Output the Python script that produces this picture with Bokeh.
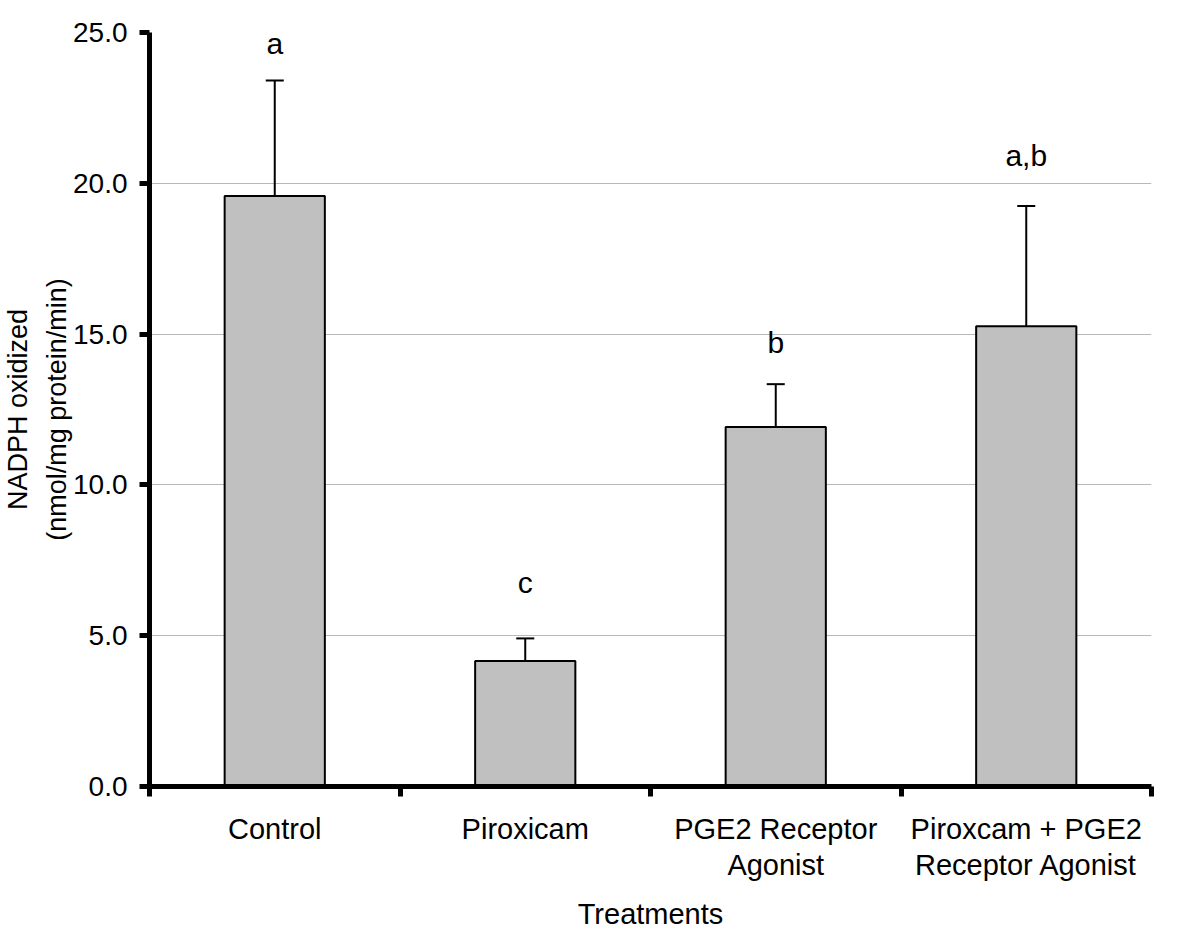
import numpy as np
from bokeh.plotting import figure
from bokeh.models import ColumnDataSource, Whisker, TeeHead, Range1d, FixedTicker
from bokeh.core.properties import value
from bokeh.embed import file_html
from bokeh.resources import INLINE

# ---- data ----
categories = ["Control", "Piroxicam", "PGE2 Receptor\nAgonist", "Piroxcam + PGE2\nReceptor Agonist"]
means = [19.58, 4.16, 11.92, 15.26]
upper_err = [23.41, 4.91, 13.34, 19.25]
letters = ["a", "c", "b", "a,b"]
letter_y = [24.62, 6.75, 14.72, 20.92]
y_ticks = [0, 5, 10, 15, 20, 25]

FONT = "Liberation Sans"

centers = list(np.arange(len(categories)) + 0.5)
boundaries = list(np.arange(len(categories) + 1).astype(float))

src = ColumnDataSource(dict(x=centers, top=means, upper=upper_err,
                            letters=letters, ly=letter_y))

p = figure(frame_width=1002, frame_height=754,
           min_border_left=142, min_border_right=40,
           min_border_top=32, min_border_bottom=150,
           x_range=Range1d(0, len(categories)), y_range=Range1d(0, 25),
           output_backend="svg", toolbar_location=None)

p.outline_line_color = None
p.background_fill_color = "white"
p.border_fill_color = "white"

# grid
p.xgrid.grid_line_color = None
p.ygrid.grid_line_color = "#b8b8b8"
p.ygrid.grid_line_width = 1

# bars
p.vbar(x="x", top="top", bottom=0, width=0.4, source=src,
       fill_color="#c0c0c0", line_color="black", line_width=2)

# error bars (upper only)
wh = Whisker(base="x", lower="top", upper="upper", source=src,
             line_color="black", line_width=2,
             upper_head=TeeHead(size=18, line_color="black", line_width=2),
             lower_head=None)
p.add_layout(wh)

# significance letters
p.text(x="x", y="ly", text="letters", source=src,
       text_font=value(FONT), text_font_size="30px",
       text_align="center", text_baseline="alphabetic", text_color="black")

# y axis
ya = p.yaxis[0]
ya.ticker = FixedTicker(ticks=y_ticks, minor_ticks=[])
ya.major_label_overrides = {t: f"{t:.1f}" for t in y_ticks}
ya.axis_line_width = 5
ya.axis_line_color = "black"
ya.major_tick_line_width = 5
ya.major_tick_out = 10
ya.major_tick_in = 0
ya.minor_tick_line_color = None
ya.major_label_standoff = 12
ya.major_label_text_font = FONT
ya.major_label_text_font_size = "28px"
ya.major_label_text_color = "black"
ya.axis_label = "NADPH oxidized\n(nmol/mg protein/min)"
ya.axis_label_text_font = FONT
ya.axis_label_text_font_size = "27px"
ya.axis_label_text_font_style = "normal"
ya.axis_label_text_color = "black"
ya.axis_label_text_line_height = 1.3
ya.axis_label_standoff = -2

# x axis
xa = p.xaxis[0]
xa.ticker = FixedTicker(ticks=centers, minor_ticks=boundaries)
xa.major_label_overrides = {c: lab for c, lab in zip(centers, categories)}
xa.axis_line_width = 5
xa.axis_line_color = "black"
xa.major_tick_line_color = None
xa.major_tick_out = 10
xa.major_tick_in = 0
xa.minor_tick_line_width = 5
xa.minor_tick_line_color = "black"
xa.minor_tick_out = 10
xa.minor_tick_in = 0
xa.major_label_standoff = 16
xa.major_label_text_font = FONT
xa.major_label_text_font_size = "29px"
xa.major_label_text_color = "black"
xa.major_label_text_line_height = 1.15
xa.axis_label = "Treatments"
xa.axis_label_text_font = FONT
xa.axis_label_text_font_size = "29px"
xa.axis_label_text_font_style = "normal"
xa.axis_label_text_color = "black"
xa.axis_label_standoff = 14

open("out.html", "w").write(file_html(p, INLINE))
